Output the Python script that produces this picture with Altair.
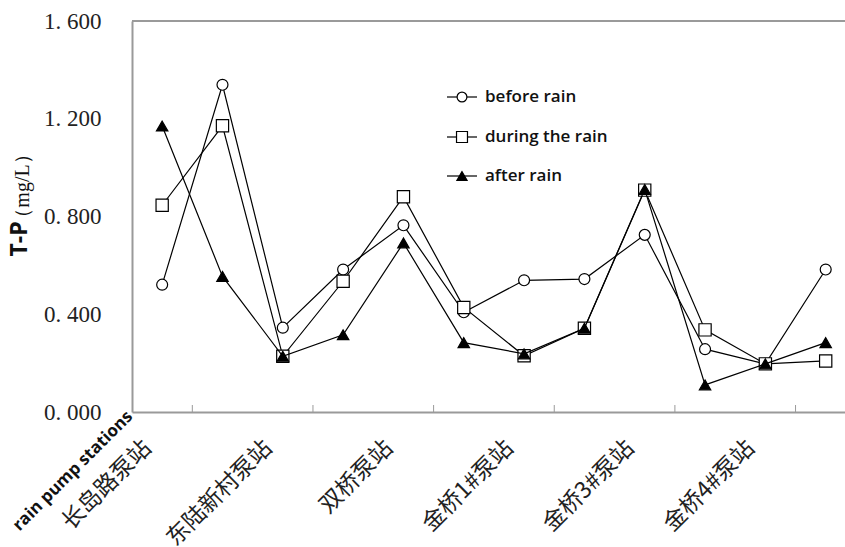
import json
import altair as alt
import pandas as pd

# Sampling points along the pump-station sequence (x index) and T-P concentrations (mg/L)
points = list(range(12))
before_rain = [0.521, 1.339, 0.345, 0.583, 0.764, 0.408, 0.539, 0.544, 0.725, 0.257, 0.197, 0.583]
during_rain = [0.846, 1.171, 0.228, 0.535, 0.881, 0.428, 0.230, 0.343, 0.908, 0.336, 0.197, 0.209]
after_rain = [1.170, 0.555, 0.228, 0.316, 0.692, 0.284, 0.238, 0.343, 0.911, 0.111, 0.197, 0.284]

series_names = ["before rain", "during the rain", "after rain"]
series_shapes = ["circle", "square", "triangle-up"]
series_fills = ["white", "white", "black"]
series_sizes = [120, 150, 130]

station_labels = ["长岛路泵站", "东陆新村泵站", "双桥泵站", "金桥1#泵站", "金桥3#泵站", "金桥4#泵站"]
label_positions = [0, 2, 4, 6, 8, 10]
tick_positions = [0.5, 2.5, 4.5, 6.5, 8.5, 10.5]
y_ticks = [0.0, 0.4, 0.8, 1.2, 1.6]

W, H = 713, 391
AXIS_GREY = "#9a9a9a"

rows = []
for name, vals in zip(series_names, [before_rain, during_rain, after_rain]):
    for p, v in zip(points, vals):
        rows.append({"point": p, "tp": v, "series": name})
df = pd.DataFrame(rows)

x_scale = alt.Scale(domain=[-0.5, 11.32], nice=False, zero=False)
y_scale = alt.Scale(domain=[0, 1.6], nice=False)

label_expr = f"{json.dumps(station_labels)}[round(datum.value/2)]"

x_axis = alt.Axis(
    values=label_positions,
    labelExpr=label_expr,
    ticks=False,
    grid=False,
    domainColor=AXIS_GREY,
    domainWidth=2,
    labelAngle=-45,
    labelAlign="right",
    labelBaseline="middle",
    labelFont="Noto Sans CJK SC",
    labelFontSize=23,
    labelColor="#222",
    labelPadding=32,
    labelOffset=-15,
    labelOverlap=False,
    labelFlush=False,
    title=None,
)
y_axis = alt.Axis(
    values=y_ticks,
    labelExpr="replace(format(datum.value, '.3f'), '.', '. ')",
    ticks=False,
    grid=False,
    domainColor=AXIS_GREY,
    domainWidth=2,
    labelFont="Liberation Serif",
    labelFontSize=23,
    labelColor="#222",
    labelPadding=31,
    title=None,
)

layers = []
for name, shape, fill, size in zip(series_names, series_shapes, series_fills, series_sizes):
    sub = df[df["series"] == name]
    line = alt.Chart(sub).mark_line(color="black", strokeWidth=1.2).encode(
        x=alt.X("point:Q", scale=x_scale, axis=x_axis),
        y=alt.Y("tp:Q", scale=y_scale, axis=y_axis),
        order="point:Q",
    )
    pts = alt.Chart(sub).mark_point(
        shape=shape, filled=True, fill=fill, stroke="black", strokeWidth=1.2, size=size, opacity=1
    ).encode(
        x=alt.X("point:Q", scale=x_scale),
        y=alt.Y("tp:Q", scale=y_scale),
    )
    layers += [line, pts]

# small inward ticks on the category axis
ticks = alt.Chart(pd.DataFrame({"t": tick_positions})).mark_rule(color=AXIS_GREY, strokeWidth=1).encode(
    x=alt.X("t:Q", scale=x_scale),
    y=alt.value(H),
    y2=alt.value(H - 7),
)

# top frame line
frame_top = alt.Chart(pd.DataFrame({"a": [0]})).mark_rule(color=AXIS_GREY, strokeWidth=2).encode(
    x=alt.value(0), x2=alt.value(W), y=alt.value(0)
)

# legend drawn inside the plot
legend_layers = []
legend_y = [76, 116, 155]
for name, shape, fill, size, ly in zip(series_names, series_shapes, series_fills, series_sizes, legend_y):
    one = pd.DataFrame({"label": [name]})
    legend_layers.append(
        alt.Chart(one).mark_rule(color="black", strokeWidth=1.2).encode(
            x=alt.value(315), x2=alt.value(345), y=alt.value(ly)
        )
    )
    legend_layers.append(
        alt.Chart(one).mark_point(
            shape=shape, filled=True, fill=fill, stroke="black", strokeWidth=1.2, size=size * 0.8, opacity=1
        ).encode(x=alt.value(330), y=alt.value(ly))
    )
    legend_layers.append(
        alt.Chart(one).mark_text(
            align="left", baseline="middle", font="Open Sans", fontSize=17, fontWeight=600, color="#111"
        ).encode(x=alt.value(353), y=alt.value(ly), text="label:N")
    )

# axis titles
title_df = pd.DataFrame({"a": [0]})
y_title_main = alt.Chart(title_df).mark_text(
    text="T-P", angle=270, font="Open Sans", fontWeight="bold", fontSize=23, color="#111",
    align="center", baseline="middle",
).encode(x=alt.value(20 - 132), y=alt.value(239 - 21))
y_title_unit = alt.Chart(title_df).mark_text(
    text="（mg/L）", angle=270, font="Liberation Serif", fontSize=20, color="#111",
    align="center", baseline="middle",
).encode(x=alt.value(23 - 132), y=alt.value(186 - 21))
x_title = alt.Chart(title_df).mark_text(
    text="rain pump stations", angle=315, font="Open Sans", fontWeight="bold", fontSize=17, color="#111",
    align="right", baseline="middle",
).encode(x=alt.value(-2), y=alt.value(414 - 21))

chart = alt.layer(
    frame_top, ticks, *layers, *legend_layers, y_title_main, y_title_unit, x_title
).properties(
    width=W,
    height=H,
    autosize="none",
    padding={"left": 132, "top": 21, "right": 0, "bottom": 135},
    background="white",
).configure_view(stroke=None)

chart.save("out.html", embed_options={"renderer": "svg", "actions": False})
